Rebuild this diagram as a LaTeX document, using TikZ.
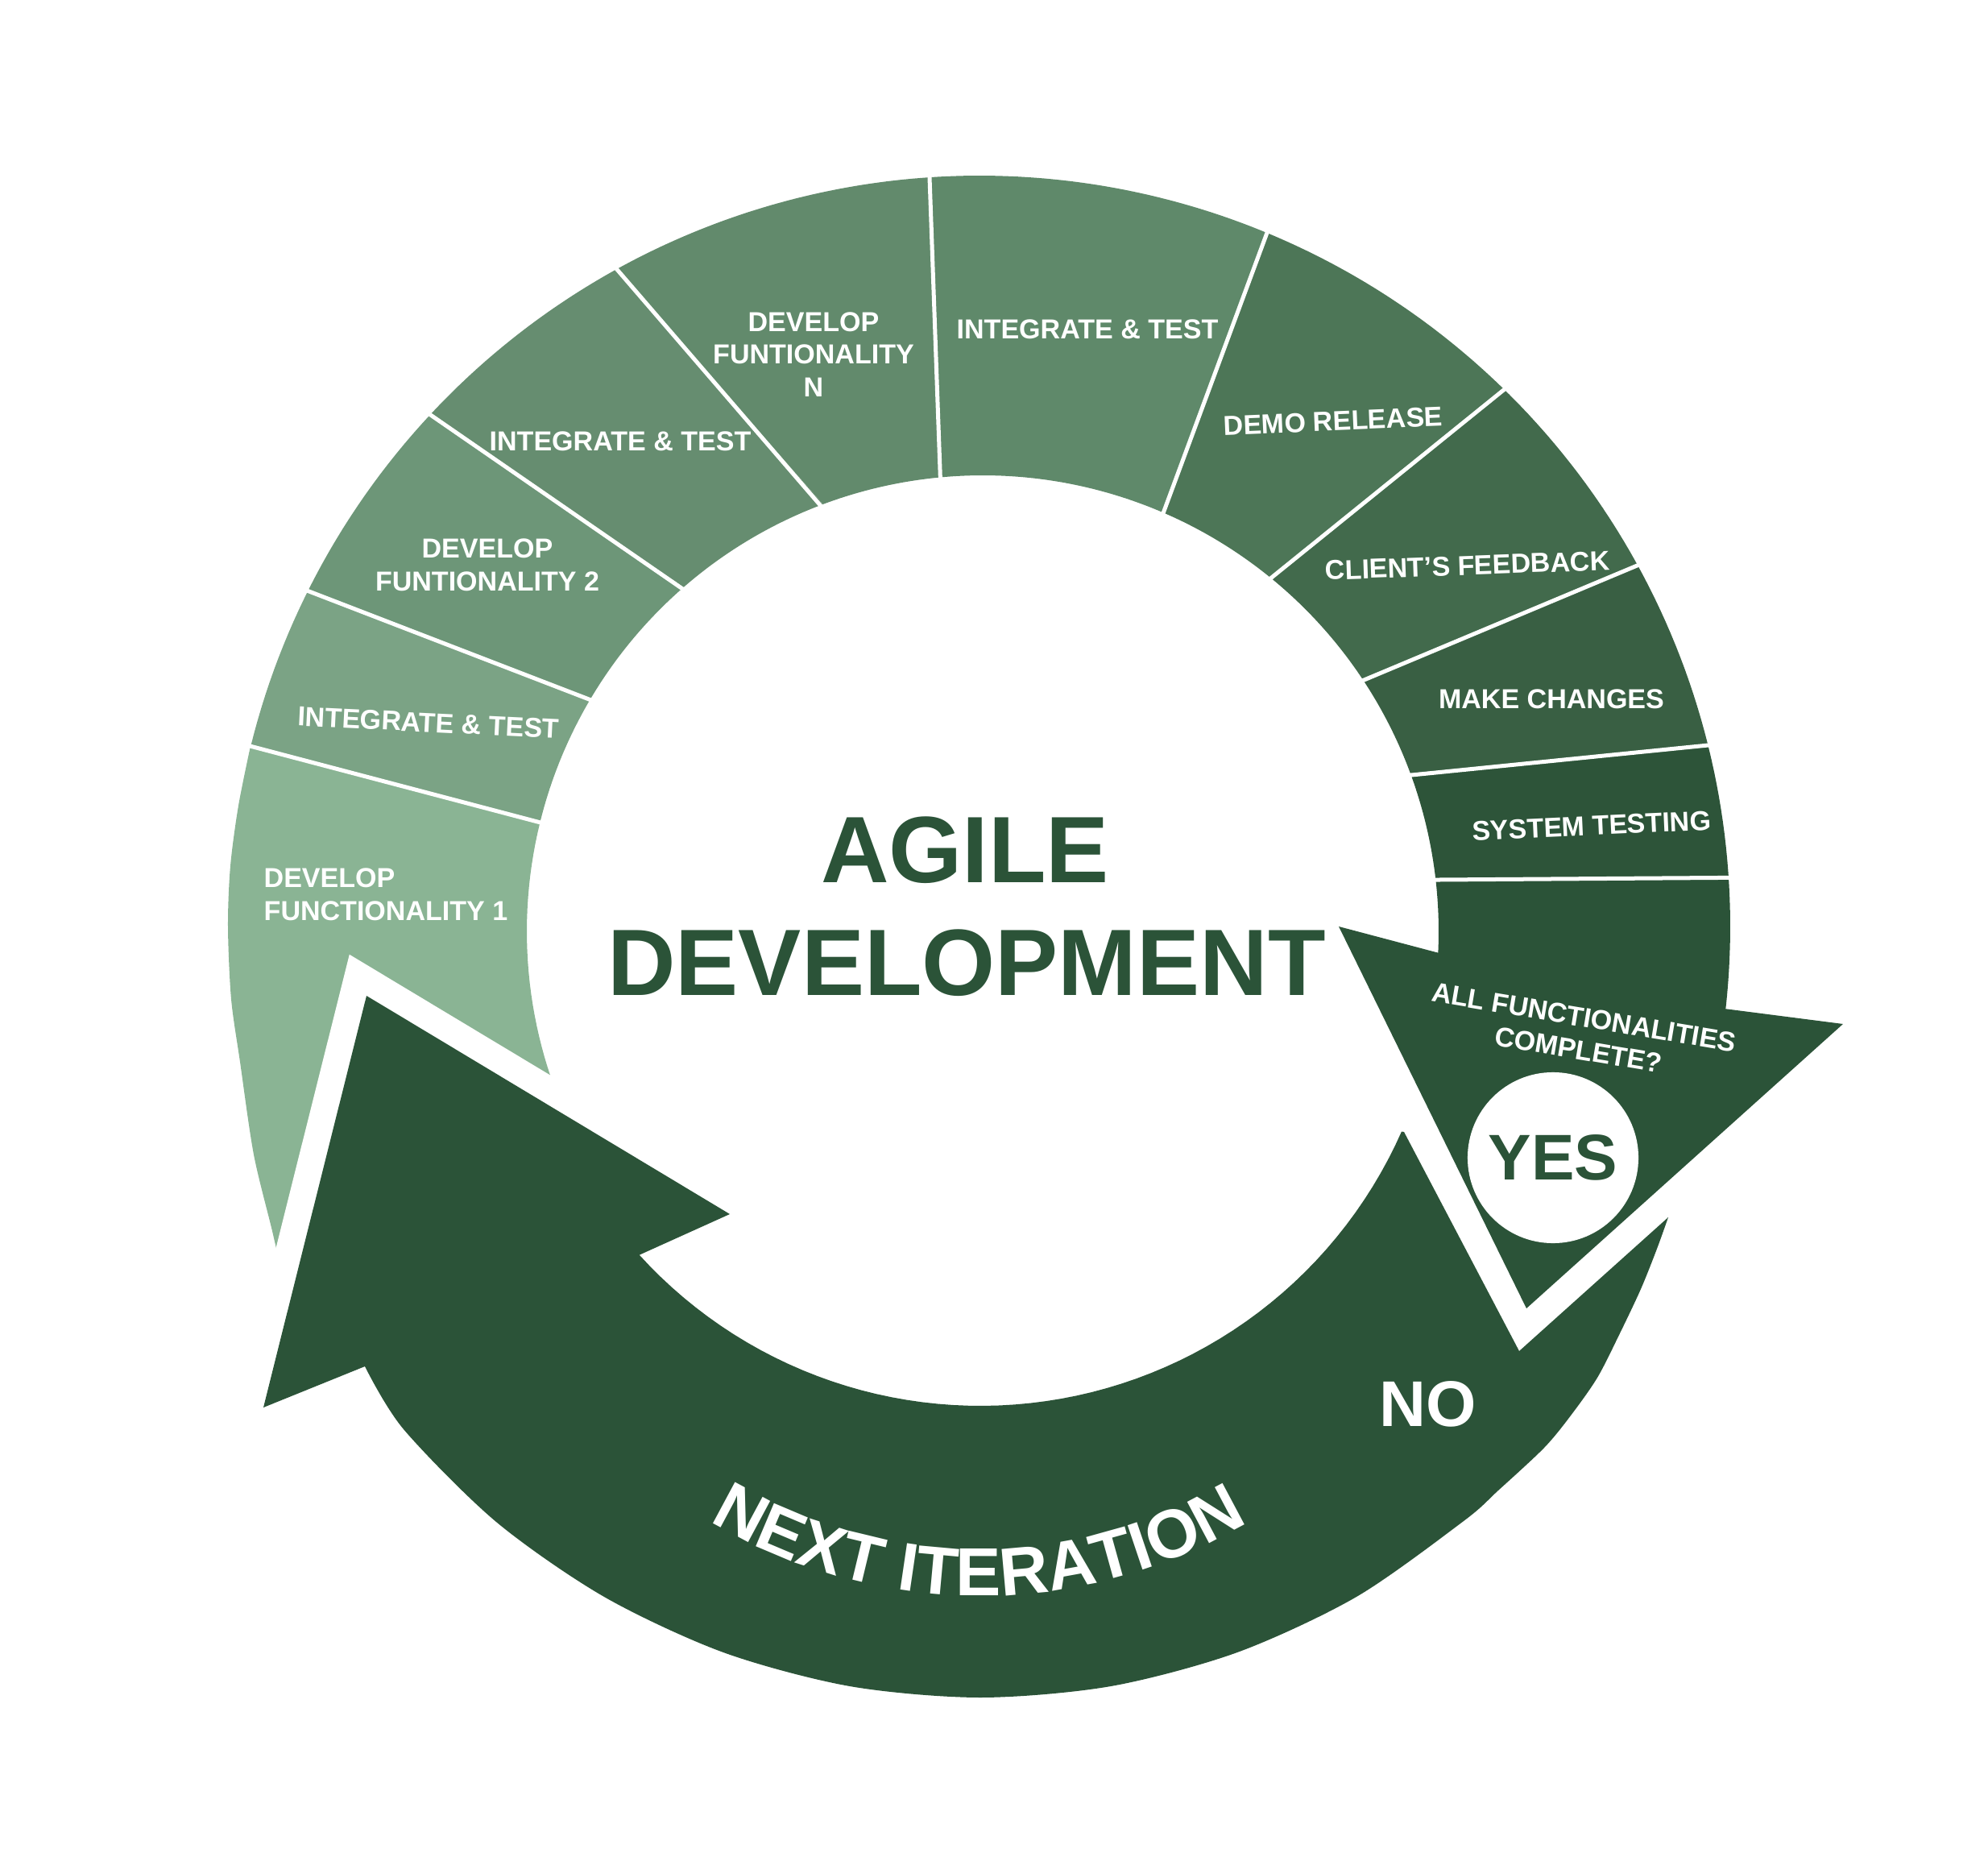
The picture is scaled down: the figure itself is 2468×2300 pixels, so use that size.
\documentclass[tikz,border=0pt]{standalone}
\usepackage{fontspec}
\setmainfont{Liberation Sans}
\usetikzlibrary{decorations.text}

\definecolor{cA}{HTML}{8AB494}
\definecolor{cB}{HTML}{7BA385}
\definecolor{cC}{HTML}{6D9678}
\definecolor{cD}{HTML}{668D70}
\definecolor{cE}{HTML}{628A6C}
\definecolor{cF}{HTML}{5F896A}
\definecolor{cG}{HTML}{4D7657}
\definecolor{cH}{HTML}{426A4C}
\definecolor{cI}{HTML}{395F43}
\definecolor{cJ}{HTML}{2D5439}
\definecolor{cK}{HTML}{2B5338}

% ring segment: colour, outer start/end angle, inner start/end angle
\newcommand{\ringseg}[5]{%
  \fill[#1] plot[domain=0:1,samples=40] ({1216+932*cos((#2)+((#3)-(#2))*\x)},{1150-932*sin((#2)+((#3)-(#2))*\x)})
   -- plot[domain=0:1,samples=40] ({1220+566*cos((#5)+((#4)-(#5))*\x)},{1156-566*sin((#5)+((#4)-(#5))*\x)}) -- cycle;}
\newcommand{\divline}[2]{%
  \draw[divider] ({1216+940*cos(#1)},{1150-940*sin(#1)}) -- ({1220+556*cos(#2)},{1156-556*sin(#2)});}
\newcommand{\arrowshape}[1]{%
  \path[#1] (1743,1405) -- (1886,1677) -- (2071,1511)
   -- plot[smooth] coordinates {(2071,1511) (2057,1550) (2037,1600) (2010,1657) (1983,1710) (1950,1757) (1917,1797) (1860,1850) (1817,1888) (1684,1982) (1536,2051) (1379,2093) (1217,2107) (1055,2093) (898,2051) (750,1982) (616,1889) (501,1774) (453,1696)}
   -- (327,1747) -- (455,1236) -- (906,1507) -- (793,1558)
   -- plot[domain=0:1,samples=60] ({1217+572*cos(137.8-114*\x)},{1173+572*sin(137.8-114*\x)}) -- cycle;}
\newcommand{\nxfont}{\fontsize{24pt}{28pt}\selectfont\bfseries}

\tikzset{
  divider/.style={draw=white, line width=0.05cm},
  lbl/.style={text=white, font=\fontsize{9.68pt}{11.6pt}\selectfont\bfseries, inner sep=0pt, align=center},
  bigtxt/.style={text=cK, font=\fontsize{33.3pt}{40pt}\selectfont\bfseries, inner sep=0pt},
  yn/.style={font=\fontsize{22.8pt}{27pt}\selectfont\bfseries, inner sep=0pt},
}

\begin{document}
\begin{tikzpicture}[x=0.01cm, y=-0.01cm]
\useasboundingbox (0,0) rectangle (2468,2300);

% Dev 1 segment (lower end cut by the big arrow's white outline)
\fill[cA] plot[smooth] coordinates {(311,926) (296,1000) (286,1075) (283,1150) (287,1240) (298,1318) (315,1433) (338,1528) (352,1590)}
  -- (709,1400)
  -- plot[domain=0:1,samples=30] ({1220+566*cos(205.5-39.3*\x)},{1156-566*sin(205.5-39.3*\x)}) -- cycle;

\ringseg{cB}{166.1}{153.5}{166.2}{149.3}
\ringseg{cC}{153.5}{137.1}{149.3}{131.0}
\ringseg{cD}{137.1}{119.0}{131.0}{110.5}
\ringseg{cE}{119.0}{93.8}{110.5}{95.4}
\ringseg{cF}{93.8}{67.5}{95.4}{66.6}
\ringseg{cG}{67.5}{45.6}{66.6}{51.0}
\ringseg{cH}{45.6}{28.7}{51.0}{33.6}
\ringseg{cI}{28.7}{13.9}{33.6}{20.3}
\ringseg{cJ}{13.9}{3.7}{20.3}{6.6}

% big "next iteration" arrow with white outline
\arrowshape{draw=white, line width=0.66cm, line join=miter}
\arrowshape{fill=cK}

% last segment with its arrow head
\fill[cK] plot[domain=0:1,samples=20] ({1216+932*cos(3.7-10*\x)},{1150-932*sin(3.7-10*\x)})
  -- (2288,1271) -- (1895,1624) -- (1662,1150)
  -- plot[domain=0:1,samples=20] ({1220+566*cos(-2.7+9.3*\x)},{1156-566*sin(-2.7+9.3*\x)}) -- cycle;

% white separators
\divline{166.1}{166.2}
\divline{153.5}{149.3}
\divline{137.1}{131.0}
\divline{119.0}{110.5}
\divline{93.8}{95.4}
\divline{67.5}{66.6}
\divline{45.6}{51.0}
\divline{28.7}{33.6}
\divline{13.9}{20.3}
\divline{3.7}{6.6}

% labels
\node[lbl, align=left, anchor=west] (dev1) at (327,1110) {DEVELOP\\FUNCTIONALITY 1};
\node[lbl, rotate=-2.8] (it1) at (532,897) {INTEGRATE \& TEST};
\node[lbl] (dev2) at (605,701) {DEVELOP\\FUNTIONALITY 2};
\node[lbl] (it2) at (770,548) {INTEGRATE \& TEST};
\node[lbl] (devn) at (1010,440) {DEVELOP\\FUNTIONALITY\\N};
\node[lbl] (it3) at (1350,409) {INTEGRATE \& TEST};
\node[lbl, rotate=2.4] (demo) at (1655,523) {DEMO RELEASE};
\node[lbl, rotate=2] (client) at (1822,702) {CLIENT’S FEEDBACK};
\node[lbl] (make) at (1926,868) {MAKE CHANGES};
\node[lbl, rotate=2.6] (sys) at (1976,1025) {SYSTEM TESTING};
\node[lbl, rotate=-9.5] (allf) at (1963,1283) {ALL FUNCTIONALITIES\\COMPLETE?};

\node[circle, fill=white, minimum size=2.12cm, inner sep=0pt, text=cK, yn] (yes) at (1928,1437) {YES};
\node[yn, text=white] (no) at (1773,1743) {NO};

\node[bigtxt] (agile) at (1198,1055) {AGILE};
\node[bigtxt] (devt) at (1200,1195) {DEVELOPMENT};

\path[decorate, decoration={text along path, text align=center,
   text={|\nxfont\color{white}|NEXT ITERATION}}]
   plot[domain=0:1, samples=120] ({1216+651*cos(152-124*\x)},{1330+651*sin(152-124*\x)});
\end{tikzpicture}
\end{document}
